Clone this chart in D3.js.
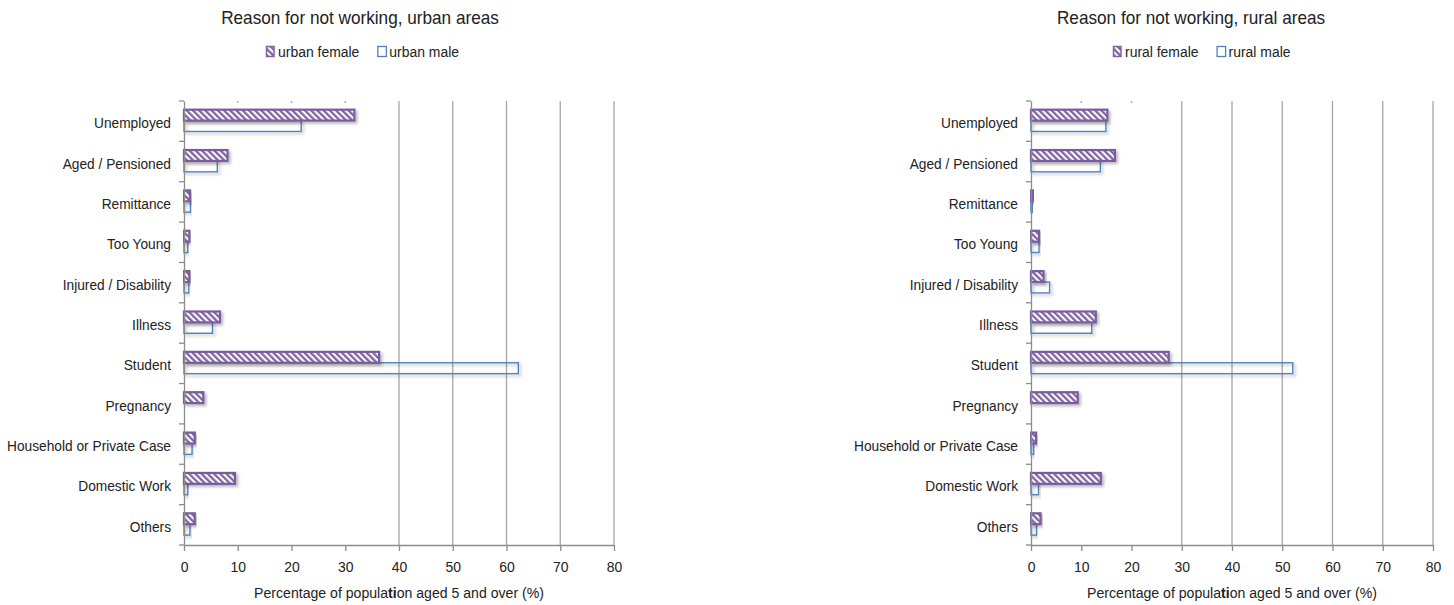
<!DOCTYPE html>
<html>
<head>
<meta charset="utf-8">
<script src="https://cdn.jsdelivr.net/npm/d3@7"></script>
<style>
  html, body { margin: 0; padding: 0; background: #fff; }
  svg text { font-family: "Liberation Sans Narrow", "Liberation Sans", Arial, sans-serif; fill: #222; }
</style>
</head>
<body>
<svg id="chart" width="1454" height="605"></svg>
<script>
// Reasons for not working, population aged 5 and over (%)
const categories = ["Unemployed", "Aged / Pensioned", "Remittance", "Too Young", "Injured / Disability",
  "Illness", "Student", "Pregnancy", "Household or Private Case", "Domestic Work", "Others"];
const urbanFemale = [31.7, 8.1, 1.1, 1.0, 1.0, 6.7, 36.3, 3.6, 2.0, 9.5, 2.0];
const urbanMale   = [21.8, 6.2, 1.2, 0.7, 0.9, 5.3, 62.2, 0, 1.5, 0.7, 1.1];
const ruralFemale = [15.2, 16.7, 0.4, 1.6, 2.5, 12.9, 27.4, 9.3, 1.0, 13.9, 1.9];
const ruralMale   = [14.9, 13.8, 0.3, 1.6, 3.7, 12.1, 52.1, 0, 0.5, 1.5, 1.1];
const xTicks = [0, 10, 20, 30, 40, 50, 60, 70, 80];

const svg = d3.select("#chart");
const defs = svg.append("defs");
const FONT = '"Liberation Sans Narrow", "Liberation Sans", Arial, sans-serif';

// text drawn in a slightly condensed face
function label(parent, x, y, size, sx, anchor, txt) {
  return parent.append("text")
    .attr("transform", `translate(${x},${y}) scale(${sx},1)`)
    .attr("text-anchor", anchor).attr("font-size", size).text(txt);
}

// diagonal hatch for the female series
const pat = defs.append("pattern")
  .attr("id", "hatch").attr("patternUnits", "userSpaceOnUse")
  .attr("width", 4.4).attr("height", 4.4)
  .attr("patternTransform", "rotate(-45)");
pat.append("rect").attr("width", 4.4).attr("height", 4.4).attr("fill", "#fff");
pat.append("rect").attr("width", 2.3).attr("height", 4.4).attr("fill", "#8064A2");

const shadow = defs.append("filter").attr("id", "shadow")
  .attr("x", "-10%").attr("y", "-40%").attr("width", "130%").attr("height", "200%");
shadow.append("feDropShadow").attr("dx", 2).attr("dy", 2).attr("stdDeviation", 1.5)
  .attr("flood-color", "#000").attr("flood-opacity", 0.28);

const panels = [
  { title: "Reason for not working, urban areas", female: urbanFemale, male: urbanMale,
    names: ["urban female", "urban male"], x0: 184, x1: 614, titleX: 360, legendX: 266 },
  { title: "Reason for not working, rural areas", female: ruralFemale, male: ruralMale,
    names: ["rural female", "rural male"], x0: 1031, x1: 1433, titleX: 1191, legendX: 1113 }
];

const plotTop = 101, plotBottom = 545;

panels.forEach(p => {
  const g = svg.append("g");
  const x = d3.scaleLinear().domain([0, 80]).range([p.x0, p.x1]);
  const y = d3.scaleBand().domain(categories).range([plotTop, plotBottom]).paddingInner(0).paddingOuter(0);
  const bw = y.bandwidth();

  // title
  label(g, p.titleX, 24, 18, 0.955, "middle", p.title);

  // legend
  const lg = g.append("g").attr("transform", `translate(${p.legendX},0)`);
  lg.append("rect").attr("x", 0.5).attr("y", 46.5).attr("width", 7.5).attr("height", 10)
    .attr("fill", "url(#hatch)").attr("stroke", "#8064A2").attr("stroke-width", 1.5);
  const t1 = label(lg, 12, 57, 15, 0.93, "start", p.names[0]);
  const w1 = t1.node().getComputedTextLength() * 0.93;
  lg.append("rect").attr("x", 12 + w1 + 18.5).attr("y", 46.5).attr("width", 8.5).attr("height", 10)
    .attr("fill", "#fff").attr("stroke", "#4F81BD").attr("stroke-width", 1.3);
  label(lg, 12 + w1 + 30, 57, 15, 0.93, "start", p.names[1]);

  // gridlines
  g.append("g").selectAll("line").data(xTicks.slice(1)).join("line")
    .attr("x1", d => x(d)).attr("x2", d => x(d)).attr("y1", plotTop).attr("y2", plotBottom)
    .attr("stroke", "#a6a6a6").attr("stroke-width", 1.3);
  // the hatched series' white backing hides the grid up to its longest bar
  g.append("rect").attr("x", x(0)).attr("y", plotTop + 2)
    .attr("width", x(d3.max(p.female)) - x(0)).attr("height", plotBottom - plotTop - 2)
    .attr("fill", "#fff");

  // bars
  const rows = categories.map((c, i) => ({ c, f: p.female[i], m: p.male[i] }));
  g.append("g").selectAll("rect").data(rows.filter(d => d.m > 0)).join("rect")
    .attr("x", x(0)).attr("y", d => y(d.c) + bw * 0.485)
    .attr("width", d => x(d.m) - x(0)).attr("height", bw * 0.27)
    .attr("fill", "#fff").attr("fill-opacity", 0).attr("stroke", "#4F81BD").attr("stroke-width", 1.4)
    .attr("filter", "url(#shadow)");
  g.append("g").selectAll("rect").data(rows.filter(d => d.f > 0)).join("rect")
    .attr("x", x(0)).attr("y", d => y(d.c) + bw * 0.215)
    .attr("width", d => x(d.f) - x(0)).attr("height", bw * 0.27)
    .attr("fill", "url(#hatch)").attr("stroke", "#7A5C9E").attr("stroke-width", 2.2)
    .attr("filter", "url(#shadow)");

  // x axis
  const xa = g.append("g").attr("transform", `translate(0,${plotBottom})`)
    .call(d3.axisBottom(x).tickValues(xTicks).tickSize(6).tickPadding(10).tickSizeOuter(0));
  xa.select(".domain").attr("stroke", "#8c8c8c").attr("stroke-width", 1.3);
  xa.selectAll(".tick line").attr("stroke", "#8c8c8c").attr("stroke-width", 1.3);
  xa.selectAll(".tick text").attr("font-size", 15.5).attr("fill", "#222").attr("font-family", FONT)
    .attr("transform", "scale(0.9,1)");

  // y axis
  const sxY = 0.886;
  const ya = g.append("g").attr("transform", `translate(${x(0)},0)`)
    .call(d3.axisLeft(y).tickSize(0).tickPadding(13));
  ya.select(".domain").attr("stroke", "#8c8c8c").attr("stroke-width", 1.3);
  ya.selectAll(".tick text").attr("font-size", 15.5).attr("fill", "#222").attr("dy", "0.45em")
    .attr("font-family", FONT).attr("x", -13 / sxY).attr("transform", `scale(${sxY},1)`);
  g.append("g").selectAll("line").data(d3.range(categories.length + 1)).join("line")
    .attr("x1", x(0) - 5).attr("x2", x(0))
    .attr("y1", i => plotTop + i * bw).attr("y2", i => plotTop + i * bw)
    .attr("stroke", "#8c8c8c").attr("stroke-width", 1.3);

  // axis title
  const at = g.append("text")
    .attr("transform", `translate(${(p.x0 + p.x1) / 2},598) scale(0.94,1)`)
    .attr("text-anchor", "middle").attr("font-size", 15);
  at.append("tspan").text("Percentage of popula");
  at.append("tspan").attr("font-weight", "bold").text("ti");
  at.append("tspan").text("on aged 5 and over (%)");
});
</script>
</body>
</html>
